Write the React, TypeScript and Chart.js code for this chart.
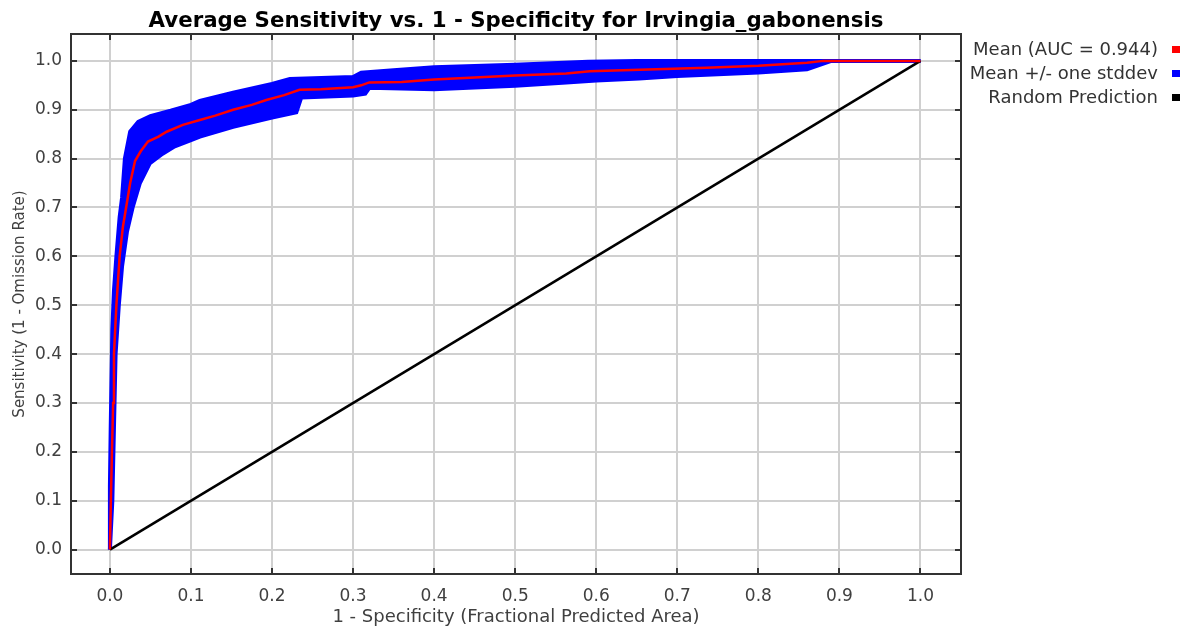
import React, { useEffect, useRef } from 'react';
import { Chart, registerables } from 'chart.js';

Chart.register(...registerables);

const TITLE = 'Average Sensitivity vs. 1 - Specificity for Irvingia_gabonensis';
const X_TITLE = '1 - Specificity (Fractional Predicted Area)';
const Y_TITLE = 'Sensitivity (1 - Omission Rate)';

const LEGEND_LABELS = ['Mean (AUC = 0.944)', 'Mean +/- one stddev', 'Random Prediction'];
const LEGEND_COLORS = ['#ff0000', '#0000ff', '#000000'];

const TICK_VALUES = [0, 0.1, 0.2, 0.3, 0.4, 0.5, 0.6, 0.7, 0.8, 0.9, 1.0];
const TICK_LABELS = ['0.0', '0.1', '0.2', '0.3', '0.4', '0.5', '0.6', '0.7', '0.8', '0.9', '1.0'];

// Mean ROC curve
const MEAN_X = [0, 0.0012, 0.0025, 0.004, 0.005, 0.008, 0.012, 0.016, 0.02, 0.025, 0.031, 0.038, 0.047, 0.06, 0.07, 0.09, 0.111, 0.13, 0.152, 0.175, 0.193, 0.215, 0.234, 0.26, 0.3, 0.31, 0.32, 0.36, 0.4, 0.45, 0.5, 0.563, 0.592, 0.674, 0.736, 0.8, 0.83, 0.86, 0.88, 1.0];
const MEAN_Y = [0, 0.1, 0.2, 0.3, 0.4, 0.5, 0.6, 0.66, 0.7, 0.75, 0.795, 0.815, 0.835, 0.845, 0.855, 0.869, 0.879, 0.888, 0.9, 0.91, 0.92, 0.93, 0.941, 0.942, 0.946, 0.95, 0.956, 0.957, 0.962, 0.966, 0.97, 0.974, 0.979, 0.983, 0.986, 0.99, 0.993, 0.996, 1.0, 1.0];

// Mean + one stddev
const UPPER_X = [0, 0, 0.001, 0.002, 0.003, 0.005, 0.008, 0.012, 0.015, 0.0185, 0.025, 0.035, 0.05, 0.075, 0.1, 0.111, 0.152, 0.2, 0.222, 0.3, 0.31, 0.35, 0.4, 0.5, 0.59, 0.65, 1.0];
const UPPER_Y = [0, 0.13, 0.25, 0.35, 0.45, 0.53, 0.6, 0.68, 0.72, 0.8, 0.855, 0.875, 0.887, 0.898, 0.91, 0.918, 0.935, 0.953, 0.963, 0.967, 0.976, 0.981, 0.987, 0.992, 0.998, 1.0, 1.0];

// Mean - one stddev
const LOWER_X = [0, 0.003, 0.005, 0.007, 0.011, 0.015, 0.021, 0.028, 0.037, 0.049, 0.065, 0.08, 0.1, 0.111, 0.152, 0.2, 0.23, 0.236, 0.3, 0.315, 0.32, 0.4, 0.5, 0.563, 0.6, 0.653, 0.7, 0.8, 0.86, 0.89, 1.0];
const LOWER_Y = [0, 0.1, 0.25, 0.4, 0.5, 0.58, 0.65, 0.7, 0.75, 0.79, 0.81, 0.825, 0.838, 0.845, 0.865, 0.884, 0.895, 0.925, 0.929, 0.933, 0.945, 0.942, 0.949, 0.956, 0.96, 0.964, 0.969, 0.976, 0.983, 1.0, 1.0];

// Random prediction
const RANDOM_X = [0, 1];
const RANDOM_Y = [0, 1];

const toPoints = (xs: number[], ys: number[]) => xs.map((x, i) => ({ x, y: ys[i] }));

const FONT = 'DejaVu Sans';
const TEXT_COLOR = '#404040';

const decorPlugin = {
  id: 'decor',
  afterDraw(chart: any) {
    const { ctx, chartArea } = chart;
    const { left, right, top, bottom } = chartArea;
    const xs = chart.scales.x;
    const ys = chart.scales.y;
    ctx.save();
    // inward tick marks
    ctx.strokeStyle = '#333333';
    ctx.lineWidth = 2;
    const tl = 6;
    ctx.beginPath();
    TICK_VALUES.forEach((v) => {
      const px = Math.round(xs.getPixelForValue(v));
      ctx.moveTo(px, bottom);
      ctx.lineTo(px, bottom - tl);
      ctx.moveTo(px, top);
      ctx.lineTo(px, top + tl);
      const py = Math.round(ys.getPixelForValue(v));
      ctx.moveTo(left, py);
      ctx.lineTo(left + tl, py);
      ctx.moveTo(right, py);
      ctx.lineTo(right - tl, py);
    });
    ctx.stroke();
    // frame
    ctx.lineWidth = 2;
    ctx.strokeStyle = '#333333';
    ctx.strokeRect(left, top, right - left, bottom - top);

    // title
    ctx.fillStyle = '#000000';
    ctx.font = `bold 21.3px "${FONT}"`;
    ctx.textAlign = 'center';
    ctx.textBaseline = 'alphabetic';
    ctx.fillText(TITLE, (left + right) / 2, 27);

    // legend
    ctx.font = `18px "${FONT}"`;
    ctx.textAlign = 'right';
    ctx.textBaseline = 'middle';
    const rows = [49, 73, 97];
    LEGEND_LABELS.forEach((label, i) => {
      ctx.fillStyle = '#333333';
      ctx.fillText(label, 1158, rows[i] + 1);
      ctx.fillStyle = LEGEND_COLORS[i];
      ctx.fillRect(1172, rows[i] - 3, 8, 7);
    });
    ctx.restore();
  },
};

export default function App() {
  const ref = useRef<HTMLCanvasElement | null>(null);

  useEffect(() => {
    if (!ref.current) return;
    const tickCallback = (v: any) => {
      const idx = TICK_VALUES.findIndex((t) => Math.abs(t - Number(v)) < 1e-9);
      return idx >= 0 ? TICK_LABELS[idx] : '';
    };
    const chart = new Chart(ref.current, {
      type: 'line',
      data: {
        datasets: [
          {
            label: LEGEND_LABELS[0],
            data: toPoints(MEAN_X, MEAN_Y),
            borderColor: '#ff0000',
            borderWidth: 2.5,
            pointRadius: 0,
            fill: false,
            tension: 0,
            order: 0,
          },
          {
            label: LEGEND_LABELS[2],
            data: toPoints(RANDOM_X, RANDOM_Y),
            borderColor: '#000000',
            borderWidth: 2.5,
            pointRadius: 0,
            fill: false,
            tension: 0,
            order: 1,
          },
          {
            label: LEGEND_LABELS[1],
            data: toPoints(UPPER_X, UPPER_Y),
            borderColor: '#0000ff',
            backgroundColor: '#0000ff',
            borderWidth: 4,
            pointRadius: 0,
            fill: 3,
            tension: 0,
            order: 2,
          },
          {
            label: 'lower',
            data: toPoints(LOWER_X, LOWER_Y),
            borderColor: '#0000ff',
            borderWidth: 4,
            pointRadius: 0,
            fill: false,
            tension: 0,
            order: 3,
          },
        ],
      },
      options: {
        responsive: false,
        animation: false,
        events: [],
        layout: { padding: { top: 34, right: 223, left: 0, bottom: 0 } },
        plugins: {
          legend: { display: false },
          title: { display: false },
          tooltip: { enabled: false },
        },
        scales: {
          x: {
            type: 'linear',
            min: -0.048,
            max: 1.05,
            afterBuildTicks: (s: any) => {
              s.ticks = TICK_VALUES.map((v) => ({ value: v }));
            },
            afterFit: (s: any) => {
              s.height = 54;
            },
            ticks: {
              callback: tickCallback,
              font: { family: FONT, size: 17 },
              color: TEXT_COLOR,
              padding: 12,
              maxRotation: 0,
              autoSkip: false,
            },
            grid: { color: '#d0d0d0', lineWidth: 2, drawTicks: false },
            border: { display: false },
            title: {
              display: true,
              text: X_TITLE,
              font: { family: FONT, size: 18 },
              color: TEXT_COLOR,
              padding: { top: 0, bottom: 0 },
            },
          },
          y: {
            type: 'linear',
            min: -0.05,
            max: 1.055,
            afterBuildTicks: (s: any) => {
              s.ticks = TICK_VALUES.map((v) => ({ value: v }));
            },
            afterFit: (s: any) => {
              s.width = 71;
            },
            ticks: {
              callback: tickCallback,
              font: { family: FONT, size: 17 },
              color: TEXT_COLOR,
              padding: 9,
              autoSkip: false,
            },
            grid: { color: '#d0d0d0', lineWidth: 2, drawTicks: false },
            border: { display: false },
            title: {
              display: true,
              text: Y_TITLE,
              font: { family: FONT, size: 15 },
              color: TEXT_COLOR,
              padding: { top: 11, bottom: 0 },
            },
          },
        },
      },
      plugins: [decorPlugin],
    } as any);
    return () => chart.destroy();
  }, []);

  return (
    <div style={{ position: 'fixed', left: 0, top: 0, width: 1184, height: 628, background: '#ffffff' }}>
      <canvas ref={ref} width={1184} height={628} style={{ display: 'block' }} />
    </div>
  );
}
